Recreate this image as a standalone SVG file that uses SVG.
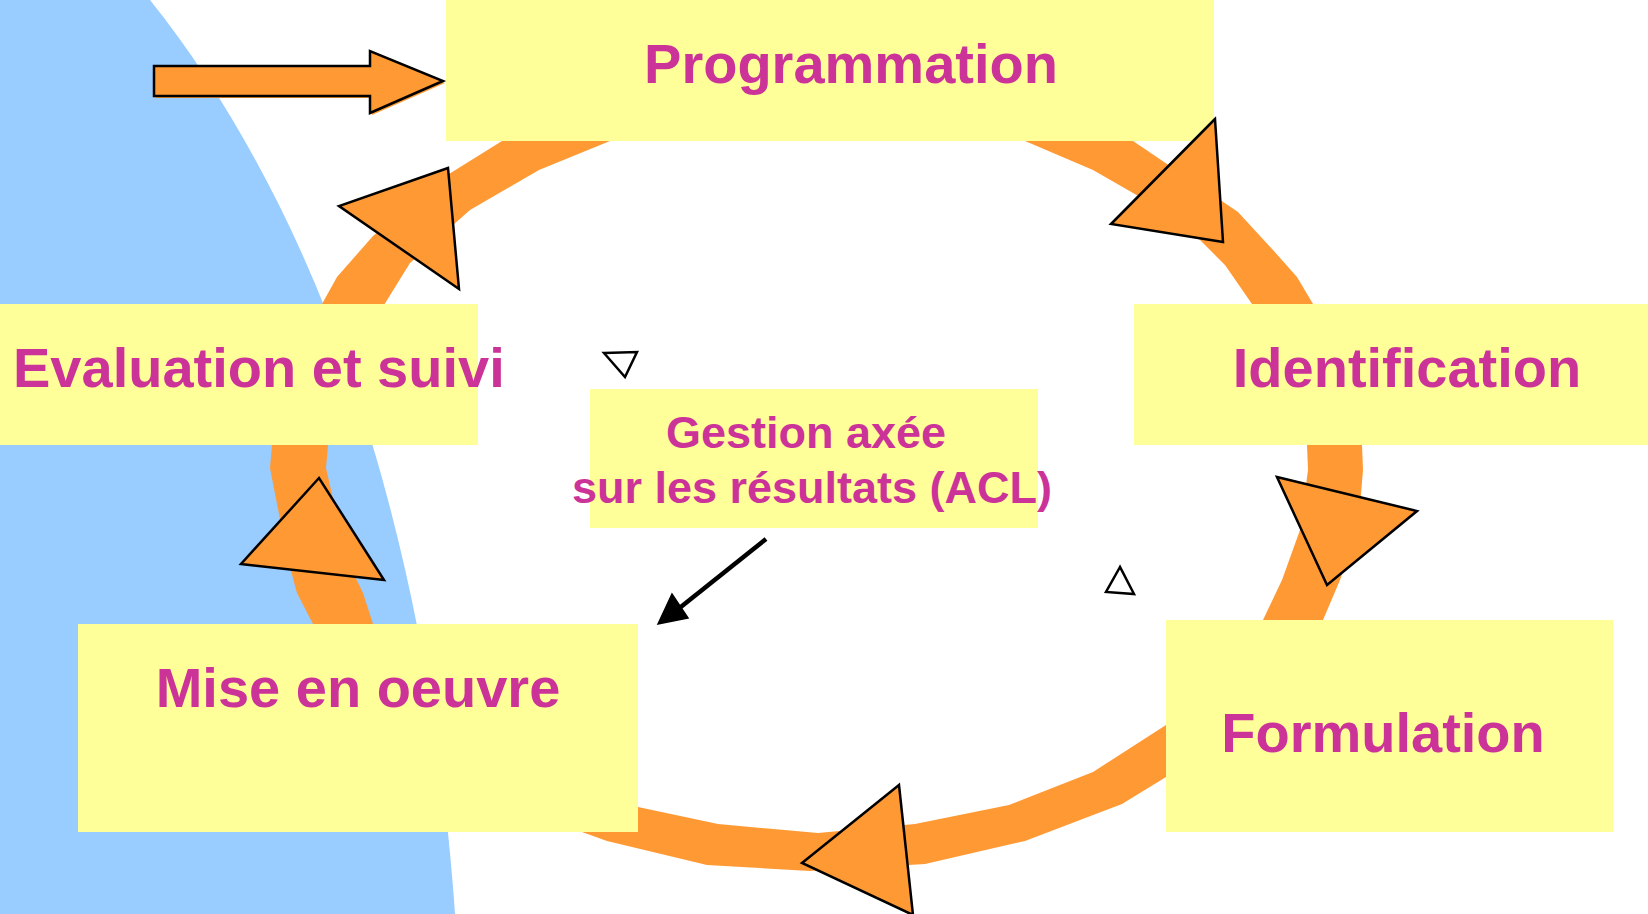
<svg xmlns="http://www.w3.org/2000/svg" width="1648" height="914" viewBox="0 0 1648 914">
<defs>
<style>
.box{fill:#FFFF99;}
.lbl{font-family:"Liberation Sans",Arial,sans-serif;font-weight:bold;fill:#CC3399;font-size:56px;}
.lbl2{font-family:"Liberation Sans",Arial,sans-serif;font-weight:bold;fill:#CC3399;font-size:45px;}
.tri{fill:#FF9933;stroke:#000;stroke-width:2.5;stroke-linejoin:miter;}
.wtri{fill:#fff;stroke:#000;stroke-width:2.5;}
.ring{fill:#FF9933;fill-rule:evenodd;}
</style>
</defs>
<rect x="0" y="0" width="1648" height="914" fill="#fff"/>
<!-- blue background shape -->
<path d="M0,0 L150,0 C230,100 300,230 350,375 C400,520 440,700 455,914 L0,914 Z" fill="#99CCFF"/>

<g id="connector-ring">
<path class="ring" d="M502,141 L536,120 L800,95 L1102,120 L1133,141 L1238,212 L1273,250 L1297,277 L1313,304 L1345,360 L1362,420 L1362,445 L1363,470 L1358,530 L1340,580 L1323,620 L1300,660 L1250,720 L1200,755 L1166,777 L1122,804 L1025,841 L925,864 L810,871 L707,865 L607,841 L582,832 L480,800 L400,750 L340,680 L313,624 L297,593 L288,560 L270,468 L272,445 L272,420 L290,360 L322,304 L337,277 L373,236 L441,179 Z
M637,130 L999,130 L1025,141 L1093,170 L1140,197 L1200,240 L1225,265 L1252,304 L1285,370 L1305,420 L1307,445 L1308,470 L1300,530 L1282,580 L1263,620 L1230,670 L1166,725 L1093,772 L1009,805 L915,824 L818,833 L718,824 L638,807 L560,780 L480,730 L420,680 L373,624 L363,593 L347,560 L326,468 L328,445 L340,400 L360,350 L384,305 L410,263 L470,210 L539,170 L610,141 Z"/>
</g>

<g id="node-programmation">
<rect class="box" x="446" y="0" width="768" height="141"/>
<text class="lbl" x="851" y="83" text-anchor="middle">Programmation</text>
</g>
<g id="node-evaluation">
<rect class="box" x="0" y="304" width="478" height="141"/>
<text class="lbl" x="13" y="387">Evaluation et suivi</text>
</g>
<g id="node-identification">
<rect class="box" x="1134" y="304" width="514" height="141"/>
<text class="lbl" x="1407" y="387" text-anchor="middle">Identification</text>
</g>
<g id="node-gestion">
<rect class="box" x="590" y="389" width="448" height="139"/>
<text class="lbl2" x="806" y="448" text-anchor="middle">Gestion axée</text>
<text class="lbl2" x="812" y="503" text-anchor="middle">sur les résultats (ACL)</text>
</g>
<g id="node-mise">
<rect class="box" x="78" y="624" width="560" height="208"/>
<text class="lbl" x="358" y="707" text-anchor="middle">Mise en oeuvre</text>
</g>
<g id="node-formulation">
<rect class="box" x="1166" y="620" width="447" height="212"/>
<text class="lbl" x="1383" y="752" text-anchor="middle">Formulation</text>
</g>

<g id="connector-heads">
<!-- entry block arrow -->
<polygon points="156,68 372,68 372,53 445,83 372,115 372,98 156,98" fill="#FF9933"/>
<polygon points="154,66 370,66 370,51 443,81 370,113 370,96 154,96" fill="#FF9933" stroke="#000" stroke-width="2.5" stroke-linejoin="miter"/>
<!-- cycle arrowheads -->
<polygon class="tri" points="448,168 339,206 459,289"/>
<polygon class="tri" points="1215,119 1111,224 1223,242"/>
<polygon class="tri" points="1277,477 1417,511 1327,585"/>
<polygon class="tri" points="899,785 802,863 913,915"/>
<polygon class="tri" points="319,478 241,564 384,580"/>
<!-- small white triangles -->
<polygon class="wtri" points="604,353 637,352 625,377"/>
<polygon class="wtri" points="1120,567 1106,592 1134,594"/>
<!-- black pointer arrow -->
<line x1="766" y1="539" x2="677" y2="610" stroke="#000" stroke-width="4.5"/>
<polygon points="658,624 672,594 688,618" fill="#000" stroke="#000" stroke-width="1.5" stroke-linejoin="miter"/>
</g>
</svg>
